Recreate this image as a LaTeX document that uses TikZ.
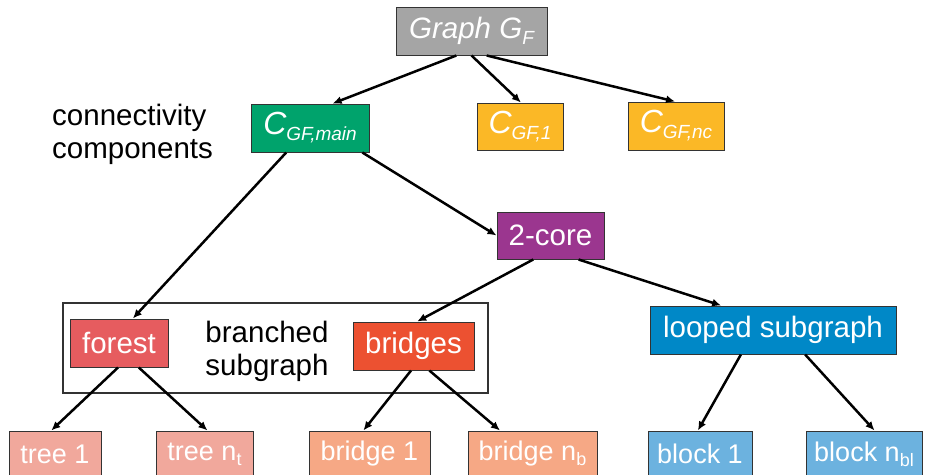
\documentclass[tikz,border=0pt]{standalone}
\usepackage{fontspec}
\setmainfont{Liberation Sans}
\usetikzlibrary{arrows.meta,calc}
\definecolor{cgrey}{HTML}{A5A5A5}
\definecolor{cgreen}{HTML}{00A36C}
\definecolor{cyellow}{HTML}{FBB826}
\definecolor{cpurple}{HTML}{9B368F}
\definecolor{cforest}{HTML}{E65C5F}
\definecolor{cbridges}{HTML}{EC5131}
\definecolor{clooped}{HTML}{0088C7}
\definecolor{ctree}{HTML}{F1A89C}
\definecolor{cbridge}{HTML}{F6A885}
\definecolor{cblock}{HTML}{6CB2DF}
\definecolor{boxline}{HTML}{333333}
\newcommand{\mysub}[1]{\raisebox{-6pt}{\fontsize{19}{19}\selectfont #1}}
\newcommand{\mysubb}[1]{\raisebox{-5pt}{\fontsize{18}{18}\selectfont #1}}
\tikzset{
  box/.style={draw=boxline, line width=1pt, inner sep=0pt, text=white,
    font=\fontsize{29.5}{34}\selectfont},
  lowbox/.style={box, minimum height=46pt, font=\fontsize{27}{32}\selectfont},
  arr/.style={-{Latex[length=9pt,width=8pt]}, line width=2.5pt, black},
  lbl/.style={inner sep=0pt, text=black, font=\fontsize{29.5}{33}\selectfont}
}
\begin{document}
\begin{tikzpicture}[x=1pt,y=-1pt]
\clip (0,0) rectangle (928,474);
\useasboundingbox (0,0) rectangle (928,474);
% top
\node[box, fill=cgrey, minimum width=151pt, minimum height=48pt] (g) at (471.5,31) {\itshape Graph G\mysub{F}};
\node[box, fill=cgreen, minimum width=118pt, minimum height=48pt] (cm) at (310,128) {\itshape{\fontsize{32}{34}\selectfont C}\mysub{GF,main}};
\node[box, fill=cyellow, minimum width=86pt, minimum height=47pt] (c1) at (520,126.5) {\itshape{\fontsize{32}{34}\selectfont C}\mysub{GF,1}};
\node[box, fill=cyellow, minimum width=96pt, minimum height=48pt] (cn) at (676,126) {\itshape{\fontsize{32}{34}\selectfont C}\mysub{GF,nc}};
\node[lbl, anchor=west, align=left] (cc) at (52,134) {connectivity\\components};
% middle
\node[box, fill=cpurple, minimum width=107pt, minimum height=47pt] (core) at (550.5,235.5) {2-core};
\node[draw=boxline, line width=1.2pt, inner sep=0pt, minimum width=425pt, minimum height=90pt] (bs) at (275.5,348) {};
\node[lbl, align=center] (bt) at (267,351) {branched\\subgraph};
\node[box, fill=cforest, minimum width=98pt, minimum height=48pt] (forest) at (119,343) {forest};
\node[box, fill=cbridges, minimum width=121pt, minimum height=48pt] (bridges) at (413.5,346) {bridges};
\node[box, fill=clooped, minimum width=246pt, minimum height=48pt] (looped) at (773,330) {looped subgraph};
% bottom
\node[lowbox, fill=ctree, minimum width=92pt] (t1) at (55,454) {tree 1};
\node[lowbox, fill=ctree, minimum width=97pt] (tn) at (204.5,454) {tree n\mysubb{t}};
\node[lowbox, fill=cbridge, minimum width=121pt] (b1) at (369.5,454) {bridge 1};
\node[lowbox, fill=cbridge, minimum width=129pt] (bn) at (532.5,454) {bridge n\mysubb{b}};
\node[lowbox, fill=cblock, minimum width=104pt] (k1) at (700,454) {block 1};
\node[lowbox, fill=cblock, minimum width=116pt] (kn) at (864,454) {block n\mysubb{bl}};
% arrows
\draw[arr] ($(g.south west)!0.40!(g.south east)$) -- ($(cm.north west)!0.69!(cm.north east)$);
\draw[arr] ($(g.south west)!0.50!(g.south east)$) -- ($(c1.north west)!0.51!(c1.north east)$);
\draw[arr] ($(g.south west)!0.60!(g.south east)$) -- ($(cn.north west)!0.49!(cn.north east)$);
\draw[arr] ($(cm.south west)!0.30!(cm.south east)$) -- ($(forest.north west)!0.64!(forest.north east)$);
\draw[arr] ($(cm.south west)!0.94!(cm.south east)$) -- (core.west);
\draw[arr] ($(core.south west)!0.34!(core.south east)$) -- ($(bridges.north west)!0.53!(bridges.north east)$);
\draw[arr] ($(core.south west)!0.76!(core.south east)$) -- ($(looped.north west)!0.29!(looped.north east)$);
\draw[arr] ($(forest.south west)!0.49!(forest.south east)$) -- ($(t1.north west)!0.46!(t1.north east)$);
\draw[arr] ($(forest.south west)!0.70!(forest.south east)$) -- ($(tn.north west)!0.53!(tn.north east)$);
\draw[arr] ($(bridges.south west)!0.48!(bridges.south east)$) -- ($(b1.north west)!0.45!(b1.north east)$);
\draw[arr] ($(bridges.south west)!0.63!(bridges.south east)$) -- ($(bn.north west)!0.25!(bn.north east)$);
\draw[arr] ($(looped.south west)!0.37!(looped.south east)$) -- ($(k1.north west)!0.48!(k1.north east)$);
\draw[arr] ($(looped.south west)!0.63!(looped.south east)$) -- ($(kn.north west)!0.59!(kn.north east)$);
\end{tikzpicture}
\end{document}
